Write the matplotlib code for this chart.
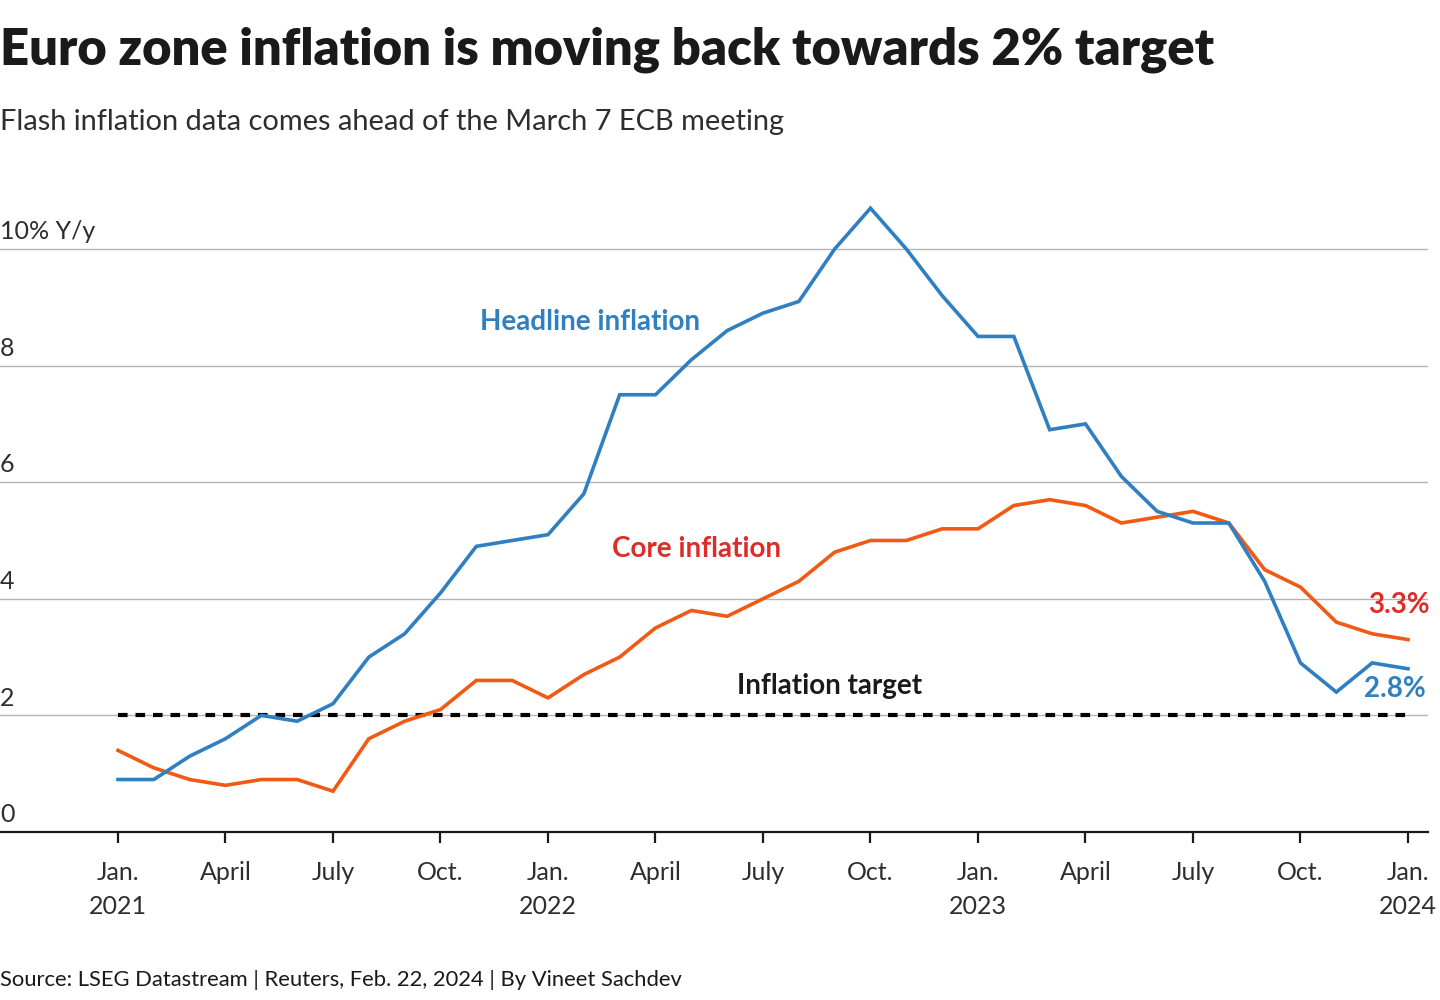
"""
Euro zone inflation: headline vs core, Jan 2021 - Jan 2024.
"""

import numpy as np
import matplotlib.pyplot as plt

# ---------------------------------------------------------------------------
# Data (monthly, y/y %)
# ---------------------------------------------------------------------------

months = np.arange(37)  # Jan 2021 .. Jan 2024

headline = [0.9, 0.9, 1.3, 1.6, 2.0, 1.9, 2.2, 3.0, 3.4, 4.1, 4.9, 5.0,
            5.1, 5.8, 7.5, 7.5, 8.1, 8.6, 8.9, 9.1, 10.0, 10.7, 10.0, 9.2,
            8.5, 8.5, 6.9, 7.0, 6.1, 5.5, 5.3, 5.3, 4.3, 2.9, 2.4, 2.9,
            2.8]
core = [1.4, 1.1, 0.9, 0.8, 0.9, 0.9, 0.7, 1.6, 1.9, 2.1, 2.6, 2.6,
        2.3, 2.7, 3.0, 3.5, 3.8, 3.7, 4.0, 4.3, 4.8, 5.0, 5.0, 5.2,
        5.2, 5.6, 5.7, 5.6, 5.3, 5.4, 5.5, 5.3, 4.5, 4.2, 3.6, 3.4,
        3.3]
target = 2.0

xtick_pos = np.arange(0, 37, 3)
xtick_labels = ["Jan.\n2021", "April", "July", "Oct.",
                "Jan.\n2022", "April", "July", "Oct.",
                "Jan.\n2023", "April", "July", "Oct.",
                "Jan.\n2024"]
ytick_pos = [0, 2, 4, 6, 8, 10]
ytick_labels = ["0", "2", "4", "6", "8", "10% Y/y"]

BLUE = "#2f7fc1"
ORANGE = "#f05a14"
RED = "#de2d26"
INK = "#1a1a1a"
GREY_TXT = "#2e2e2e"

plt.rcParams.update({
    "font.family": ["Lato", "DejaVu Sans"],
})

# ---------------------------------------------------------------------------
# Figure
# ---------------------------------------------------------------------------

W, H = 1440, 1000
fig = plt.figure(figsize=(W / 100, H / 100), dpi=100)

# axes placed in pixel terms: x axis line at y=832, months 0..36 at x=118..1408
px_per_month = (1408 - 118) / 36
x_left = 0 - 118 / px_per_month
x_right = (1428 - 118) / px_per_month
px_per_unit = (832 - 249) / 10
y_top_px = 190
ax = fig.add_axes([0, 1 - 832 / H, 1428 / W, (832 - y_top_px) / H])
ax.set_xlim(x_left, x_right)
ax.set_ylim(0, (832 - y_top_px) / px_per_unit)

for s in ["top", "right", "left"]:
    ax.spines[s].set_visible(False)
ax.spines["bottom"].set_linewidth(1.6)
ax.spines["bottom"].set_color(INK)

# gridlines
for y in ytick_pos[1:]:
    ax.axhline(y, color="#b4b4b4", linewidth=1.0, zorder=1)

# y labels sit above the gridlines at the left edge
ax.set_yticks([])
for y, lab in zip(ytick_pos, ytick_labels):
    ax.text(x_left, y + 0.1, lab, ha="left", va="bottom", fontsize=18,
            color=GREY_TXT)

ax.set_xticks(xtick_pos)
ax.set_xticklabels(xtick_labels, fontsize=18, color=GREY_TXT,
                   linespacing=1.55)
ax.tick_params(axis="x", length=8, width=1.6, color=INK, pad=13)

# target line
ax.plot([months[0], months[-1]], [target, target], color="black",
        linewidth=3.0, linestyle=(0, (2.3, 1.9)), zorder=2)

ax.plot(months, core, color=ORANGE, linewidth=2.6, zorder=3,
        solid_joinstyle="miter")
ax.plot(months, headline, color=BLUE, linewidth=2.6, zorder=4,
        solid_joinstyle="miter")

# annotations
ax.text(13.17, 8.75, "Headline inflation", color=BLUE, fontsize=20,
        fontweight="bold", ha="center", va="center")
ax.text(16.15, 4.85, "Core inflation", color=RED, fontsize=20,
        fontweight="bold", ha="center", va="center")
ax.text(19.86, 2.5, "Inflation target", color=INK, fontsize=20,
        fontweight="bold", ha="center", va="center")
ax.text(36.6, 3.9, "3.3%", color=RED, fontsize=20,
        fontweight="bold", ha="right", va="center")
ax.text(36.5, 2.45, "2.8%", color=BLUE, fontsize=20,
        fontweight="bold", ha="right", va="center")

# titles and source
fig.text(0.0, 1 - 50 / H, "Euro zone inflation is moving back towards 2% target",
         fontsize=36.5, fontweight="heavy", color=INK, ha="left", va="center")
fig.text(0.0, 1 - 122 / H, "Flash inflation data comes ahead of the March 7 ECB meeting",
         fontsize=20.9, color=GREY_TXT, ha="left", va="center")
fig.text(0.0, 1 - 980 / H, "Source: LSEG Datastream | Reuters, Feb. 22, 2024 | By Vineet Sachdev",
         fontsize=15.8, color=INK, ha="left", va="center")

fig.savefig("out.png", dpi=100)
